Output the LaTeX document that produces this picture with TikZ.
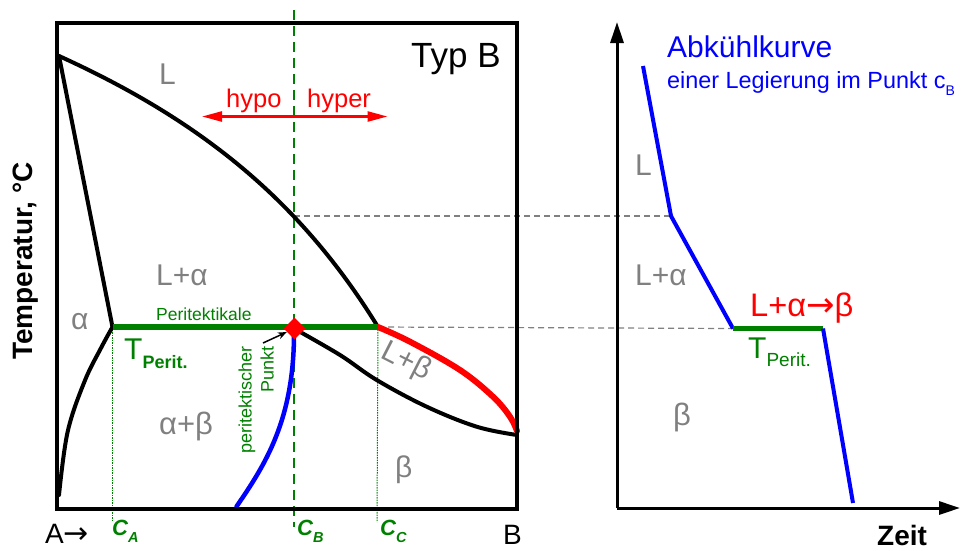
\documentclass[tikz,border=0pt]{standalone}
\usepackage{fontspec}
\setmainfont{Liberation Sans}
\newfontfamily\djv{DejaVu Sans}
\usetikzlibrary{arrows.meta,shapes.geometric}
\definecolor{grn}{RGB}{0,128,0}
\definecolor{gry}{RGB}{128,128,128}
\newcommand{\fsz}[2]{\fontsize{#1}{#2}\selectfont}
\begin{document}
\begin{tikzpicture}[x=1pt,y=-1pt,
  lbl/.style={inner sep=0pt, anchor=base west},
  phase/.style={lbl, text=gry, font=\fsz{30}{36}},
  curve/.style={line width=4pt, line join=round, line cap=round},
  guide/.style={gry, line width=1.2pt, dash pattern=on 6pt off 4pt},
  cline/.style={grn, line width=1pt, dash pattern=on 1.5pt off 1pt},
  axis/.style={line width=3pt, -{Triangle[length=21pt,width=13pt]}},
  cval/.style={lbl, text=grn, font=\fsz{22}{24}\bfseries\itshape},
]
\useasboundingbox (0,0) rectangle (966,550);

% key coordinates
\coordinate (mA) at (59,56);
\coordinate (pa) at (112.5,327);
\coordinate (pc) at (378,327);
\coordinate (lc) at (294,216);
\coordinate (bE) at (517,435);
\coordinate (rE) at (517,431);

% guide lines
\coordinate (k1) at (671,216);
\coordinate (k2) at (733,328.5);
\coordinate (k3) at (823,328.5);
\draw[guide] (lc) -- (k1);
\draw[guide] (pc) -- (k2);

% composition lines
\coordinate (cbT) at (294,10);
\coordinate (cbB) at (294,527);
\draw[grn, line width=1.5pt, dash pattern=on 10pt off 6pt] (cbT) -- (cbB);
\coordinate (caB) at (112.5,522);
\coordinate (ccB) at (377,522);
\draw[cline] (pa) -- (caB);
\draw[cline] (pc) -- (ccB);

% phase boundaries
\draw[curve] (mA) .. controls (200,120) and (300,200) .. (pc);
\draw[curve] (mA) -- (pa);
\draw[curve] plot[smooth, tension=0.6] coordinates {(112.5,327) (101,348) (84.5,381.5) (67.6,432) (59,495)};
\draw[curve] plot[smooth, tension=0.6] coordinates {(294,328.5) (340,355) (376.7,380) (426.7,406.7) (476.7,426.7) (517,435)};
\draw[curve, red, line width=6pt] plot[smooth, tension=0.6] coordinates {(378,327) (410,341.7) (460,370) (493,396.7) (510,416.7) (517,431)};
\coordinate (bl0) at (294,333);
\coordinate (bl1) at (236.5,506.5);
\draw[curve, blue, line width=4.5pt] (bl0) .. controls (294,420) and (265,465) .. (bl1);

% frame
\draw[line width=4.5pt] (57,23) rectangle (517,509);

% peritectic line and point
\draw[grn, line width=5.5pt] (pa) -- (pc);
\node[diamond, fill=red, minimum width=22pt, minimum height=22pt, inner sep=0pt] (pp) at (294.5,328.5) {};
\coordinate (arS) at (263,343);
\draw[line width=1.5pt, -{Stealth[length=9pt,width=7pt]}] (arS) -- (pp);

% hypo / hyper arrow
\coordinate (hL) at (202,116.5);
\coordinate (hR) at (387.5,116.5);
\draw[red, line width=2.5pt, {Triangle[length=20pt,width=10pt]}-{Triangle[length=20pt,width=10pt]}] (hL) -- (hR);
\node[lbl, text=red, font=\fsz{25.5}{30}] (hypo) at (226,107) {hypo};
\node[lbl, text=red, font=\fsz{25.5}{30}] (hyper) at (307,107) {hyper};

% texts in the phase diagram
\node[lbl, font=\fsz{35}{40}] (typ) at (411,67) {Typ B};
\node[phase] (tL) at (159,84.5) {L};
\node[phase] (tLa) at (156,285) {L+α};
\node[phase] (ta) at (71,329) {α};
\node[phase, font=\fsz{31}{36}] (tab) at (159,434) {α+β};
\node[phase, anchor=center, rotate=-27] (tLb) at (406,362) {L+β};
\node[phase] (tb) at (395,477) {β};
\node[lbl, text=grn, font=\fsz{17.5}{20}] (perk) at (156,320.7) {Peritektikale};
\node[lbl, text=grn, font=\fsz{30}{36}] (tper) at (124,359.5) {T\raisebox{-8.5pt}{\fsz{18}{20}\bfseries Perit.}};
\node[inner sep=0pt, rotate=90, anchor=north east, align=right, text=grn, font=\fsz{18}{22}] (ppt) at (238.5,346) {peritektischer\\Punkt};

% axis labels
\node[inner sep=0pt, rotate=90, font=\fsz{28}{32}\bfseries] (ylab) at (26,261) {Temperatur, °C};
\node[lbl, font=\fsz{28}{32}] (tA) at (45,543) {A{\djv\fsz{30}{32}→}};
\node[lbl, font=\fsz{28}{32}] (tB) at (503,544) {B};
\node[cval] (cA) at (112,535) {C\raisebox{-7pt}{\fsz{14.5}{16}\bfseries\itshape A}};
\node[cval] (cB) at (297,535) {C\raisebox{-7pt}{\fsz{14.5}{16}\bfseries\itshape B}};
\node[cval] (cC) at (380,535) {C\raisebox{-7pt}{\fsz{14.5}{16}\bfseries\itshape C}};

% cooling curve panel
\coordinate (o) at (617,508);
\coordinate (yT) at (617,22);
\coordinate (xR) at (960,508);
\draw[axis] (o) -- (yT);
\draw[axis] (o) -- (xR);
\coordinate (k0) at (643,66);
\coordinate (k4) at (853,503);
\draw[blue, line width=4pt, line join=round] (k0) -- (k1) -- (k2);
\draw[grn, line width=5pt] (k2) -- (k3);
\draw[blue, line width=4pt] (k3) -- (k4);

\node[lbl, text=blue, font=\fsz{30}{36}] (ak) at (667,57.3) {Abkühlkurve};
\node[lbl, text=blue, font=\fsz{23.4}{28}] (ak2) at (667,88) {einer Legierung im Punkt c\raisebox{-7pt}{\fsz{14}{16}B}};
\node[phase] (rL) at (635,175) {L};
\node[phase] (rLa) at (635,285) {L+α};
\node[phase, font=\fsz{31}{36}] (rb) at (673,425.6) {β};
\node[lbl, text=red, font=\fsz{32.6}{38}] (react) at (750,316.7) {L+α{\djv\fsz{34}{38}→}β};
\node[lbl, text=grn, font=\fsz{30}{36}] (rT) at (748,358) {T\raisebox{-8.7pt}{\fsz{19}{22}Perit.}};
\node[lbl, font=\fsz{28}{32}\bfseries] (zeit) at (877,545) {Zeit};
\end{tikzpicture}
\end{document}
